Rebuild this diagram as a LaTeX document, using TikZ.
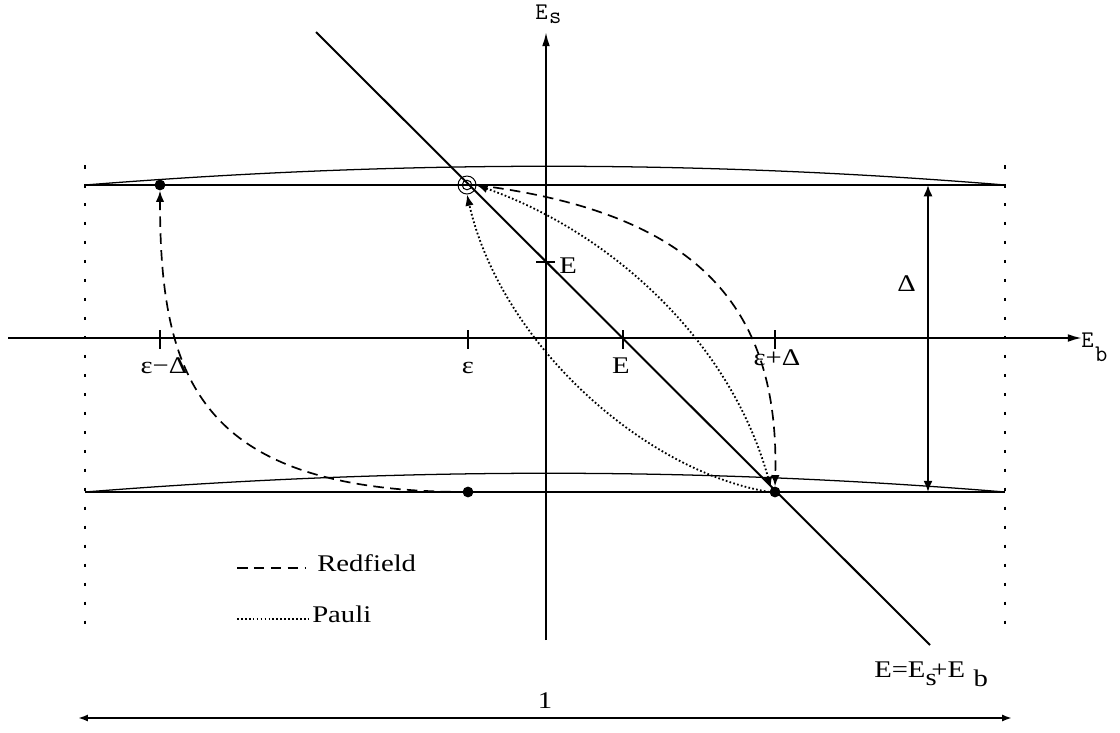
\documentclass[tikz,border=0pt]{standalone}
\usepackage{fontspec}
\usepackage{graphicx}
\setmainfont{Liberation Serif}
\usetikzlibrary{arrows.meta}
\newcommand\wtxt[1]{\scalebox{1.2}[1]{#1}}
\begin{document}
\begin{tikzpicture}[x=0.025cm,y=-0.025cm,
  ax/.style={line width=1.4pt},
  fine/.style={line width=0.9pt},
  bigtip/.style={-{Latex[length=10pt,width=5.5pt]}},
  dtip/.style={{Latex[length=8pt,width=6.5pt]}-{Latex[length=8pt,width=6.5pt]}},
  ctip/.style={-{Latex[length=8pt,width=6pt]}},
  redf/.style={line width=1.2pt,dash pattern=on 7.5pt off 4.5pt},
  paul/.style={line width=1.3pt,dash pattern=on 1.2pt off 1.6pt},
  bound/.style={line width=1.5pt,dash pattern=on 2.5pt off 11pt},
  txt/.style={inner sep=0pt,anchor=base,font=\fontsize{17}{20}\selectfont},
  mono/.style={inner sep=0pt,anchor=base west,font=\ttfamily\fontsize{17}{20}\selectfont},
  dot/.style={circle,fill,inner sep=0pt,minimum size=0.27cm}]
\path[use as bounding box] (0,0) rectangle (1120,732);
% coordinates
\coordinate (ytop) at (546,32);
\coordinate (ybot) at (546,640);
\coordinate (xl) at (8,338);
\coordinate (xr) at (1082,338);
\coordinate (dA) at (316,32);
\coordinate (dB) at (930,645);
\coordinate (TL) at (85,185);
\coordinate (TR) at (1005,185);
\coordinate (BL) at (85,492);
\coordinate (BR) at (1005,492);
\coordinate (VL1) at (85,165);
\coordinate (VL2) at (85,636);
\coordinate (VR1) at (1005,165);
\coordinate (VR2) at (1005,636);
\coordinate (DT) at (928,185);
\coordinate (DB) at (928,492);
\coordinate (UL) at (78,718);
\coordinate (UR) at (1012,718);
\coordinate (LR1) at (237,568);
\coordinate (LR2) at (305,568);
\coordinate (LP1) at (237,619);
\coordinate (LP2) at (309,619);
% boundaries
\draw[bound] (VL1) -- (VL2);
\draw[bound] (VR1) -- (VR2);
% levels
\draw[fine] (TL) -- (TR);
\draw[fine] (TL) .. controls (400,160) and (700,160) .. (TR);
\draw[fine] (BL) -- (BR);
\draw[fine] (BL) .. controls (400,467) and (700,467) .. (BR);
% axes
\draw[ax,bigtip] (ybot) -- (ytop);
\draw[ax,bigtip] (xl) -- (xr);
\draw[ax] (dA) -- (dB);
% ticks
\foreach \x in {160,468,623,775} \draw[ax] (\x,330) -- (\x,349);
\draw[ax] (536,262) -- (555,262);
% Delta and width arrows
\draw[ax,dtip] (DT) -- (DB);
\draw[ax,{Latex[length=7pt,width=5pt]}-{Latex[length=7pt,width=5pt]}] (UL) -- (UR);
% points
\node[dot] (p1) at (160,185) {};
\node[dot] (p2) at (468,492) {};
\node[dot] (p3) at (775,492) {};
\node[circle,draw,line width=0.7pt,inner sep=0pt,minimum size=0.45cm] (c) at (467,185) {};
\node[circle,draw,line width=0.7pt,inner sep=0pt,minimum size=0.24cm] (ci) at (c.center) {};
% transitions
\draw[redf,ctip] (p2.center) .. controls (200,492) and (160,380) .. (p1.south);
\draw[redf,ctip] (c.east) .. controls (690,212) and (780,300) .. (p3.north);
\draw[paul,{Latex[length=8pt,width=6pt]}-{Latex[length=8pt,width=6pt]}] (c.east) .. controls (610,232) and (730,340) .. (p3.north west);
\draw[paul,ctip] (p3.west) .. controls (640,470) and (500,340) .. (c.south);
% legend
\draw[redf] (LR1) -- (LR2);
\draw[paul] (LP1) -- (LP2);
\node[txt,anchor=base west] (lr) at (317,571) {\wtxt{Redfield}};
\node[txt,anchor=base west] (lp) at (312,622) {\wtxt{Pauli}};
% labels
\node[mono] (es) at (535,19) {E\kern1pt\raisebox{-3pt}{s}};
\node[mono] (eb) at (1081,347) {E\kern1pt\raisebox{-10pt}{b}};
\node[txt] (l1) at (164,373) {\wtxt{ε−Δ}};
\node[txt] (l2) at (468,373) {\wtxt{ε}};
\node[txt] (l3) at (621,373) {\wtxt{E}};
\node[txt] (l4) at (777,365) {\wtxt{ε+Δ}};
\node[txt,anchor=base west] (l5) at (559,273) {\wtxt{E}};
\node[txt,anchor=base west] (l6) at (897,291) {\wtxt{Δ}};
\node[txt] (l7) at (545,708) {\wtxt{1}};
\node[txt,anchor=base west] (l8) at (874,677) {\wtxt{E=E\rlap{\raisebox{-6pt}{s}}\kern3.5pt+E\kern5pt\raisebox{-7pt}{b}}};
\end{tikzpicture}
\end{document}
